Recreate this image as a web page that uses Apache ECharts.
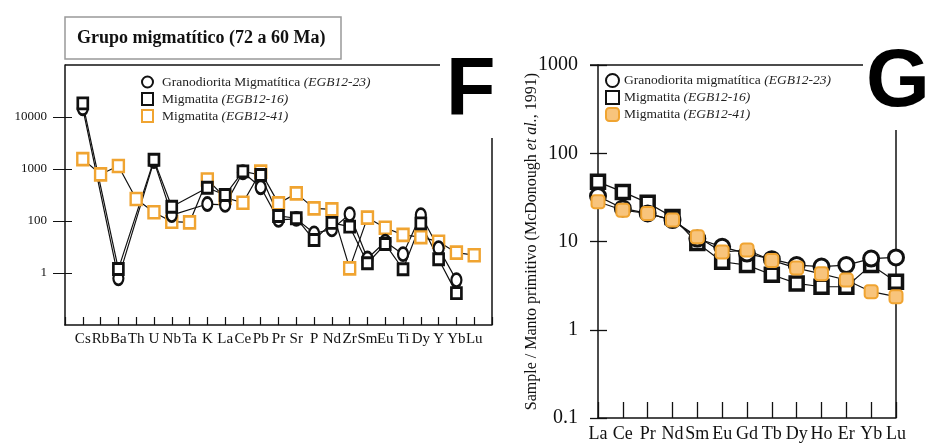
<!DOCTYPE html>
<html>
<head>
<meta charset="utf-8">
<script src="https://cdn.jsdelivr.net/npm/echarts@6/dist/echarts.min.js"></script>
<style>
  html, body { margin: 0; padding: 0; background: #fff; }
  #chart { width: 927px; height: 444px; }
</style>
</head>
<body>
<div id="chart"></div>
<script>
// ---- panel F: multielementos ----
const catsF = ['Cs', 'Rb', 'Ba', 'Th', 'U', 'Nb', 'Ta', 'K', 'La', 'Ce', 'Pb', 'Pr', 'Sr', 'P', 'Nd', 'Zr', 'Sm', 'Eu', 'Ti', 'Dy', 'Y', 'Yb', 'Lu']
const f23 = [14700, null, 7.9, null, 1420, 130, null, 212, 204, 865, 445, 105, 110, 58, 69, 136, 19, 40, 23, 130, 30, 7.3, null]
const f16 = [18300, null, 11.9, null, 1500, 188, null, 437, 316, 900, 767, 125, 113, 43, 92, 78, 15.4, 36, 11.8, 90, 18.4, 4.1, null]
const f41 = [1550, 790, 1140, 265, 147, 97, 94, 630, 280, 225, 890, 218, 340, 175, 167, 12.3, 116, 74, 54, 49, 40, 24.6, 22]
const yTickValsF = [10, 100, 1000, 10000]
const yTickLabelsF = ['1', '100', '1000', '10000']

// ---- panel G: tierras raras ----
const catsG = ['La', 'Ce', 'Pr', 'Nd', 'Sm', 'Eu', 'Gd', 'Tb', 'Dy', 'Ho', 'Er', 'Yb', 'Lu']
const g23 = [32.7, 23.7, 20.8, 17.5, 10.8, 8.7, 7.3, 6.3, 5.4, 5.2, 5.4, 6.4, 6.6]
const g16 = [47.4, 36.5, 27.4, 19, 9.6, 5.9, 5.4, 4.2, 3.35, 3.07, 3.07, 5.4, 3.5]
const g41 = [28.2, 22.6, 20.8, 17.5, 11.3, 7.6, 8.0, 6.1, 5.0, 4.3, 3.66, 2.7, 2.37]

const legendF = {
  F23: 'Granodiorita Migmatítica {i|(EGB12-23)}',
  F16: 'Migmatita {i|(EGB12-16)}',
  F41: 'Migmatita {i|(EGB12-41)}',
}
const legendG = {
  G23: 'Granodiorita migmatítica {i|(EGB12-23)}',
  G16: 'Migmatita {i|(EGB12-16)}',
  G41: 'Migmatita {i|(EGB12-41)}',
}

const serif = 'Liberation Serif'
const orange = '#f0a431'
// empty slot at each end of the F axis
const padCats = arr => ['', ...arr, '']
const pad = arr => [null, ...arr, null]

const chart = echarts.init(document.getElementById('chart'))

const lineBase = {
  type: 'line',
  connectNulls: true,
  animation: false,
  lineStyle: { color: '#111', width: 1.2 },
}

const options = {
  backgroundColor: '#fff',
  title: {
    text: 'Grupo migmatítico (72 a 60 Ma)',
    left: 65,
    top: 17,
    padding: [12, 16, 12, 12],
    borderColor: '#999',
    borderWidth: 1.5,
    textStyle: { fontFamily: serif, fontWeight: 'bold', fontSize: 18, color: '#111' },
  },
  grid: [
    { left: 65, top: 65, width: 427, height: 260 },
    { left: 598, top: 65, width: 298, height: 353 },
  ],
  xAxis: [
    {
      gridIndex: 0,
      type: 'category',
      data: padCats(catsF),
      boundaryGap: false,
      axisLine: { lineStyle: { color: '#111', width: 1.5 } },
      axisTick: { show: true, inside: true, length: 8, lineStyle: { color: '#111', width: 1.2 }, interval: 0 },
      axisLabel: { interval: 0, margin: 7, fontFamily: serif, fontSize: 15, color: '#111' },
      splitLine: { show: false },
    },
    {
      gridIndex: 1,
      type: 'category',
      data: catsG,
      boundaryGap: false,
      axisLine: { lineStyle: { color: '#111', width: 1.5 } },
      axisTick: { inside: true, length: 16, lineStyle: { color: '#111', width: 1.3 }, interval: 0 },
      axisLabel: { interval: 0, margin: 7, fontFamily: serif, fontSize: 18, color: '#111' },
      splitLine: { show: false },
    },
  ],
  yAxis: [
    {
      gridIndex: 0,
      type: 'log',
      position: 'left',
      min: 1,
      max: 100000,
      axisLine: { show: true, lineStyle: { color: '#111', width: 1.5 } },
      axisTick: { show: true, length: 12, customValues: yTickValsF, lineStyle: { color: '#111' } },
      axisLabel: {
        customValues: yTickValsF,
        margin: 18,
        fontFamily: serif,
        fontSize: 13,
        color: '#111',
        formatter: v => yTickLabelsF[yTickValsF.indexOf(v)] ?? '',
      },
      splitLine: { show: false },
    },
    {
      // short inside part of the crossing ticks
      gridIndex: 0,
      type: 'log',
      position: 'left',
      min: 1,
      max: 100000,
      axisLine: { show: false },
      axisTick: { show: true, inside: true, length: 7, customValues: yTickValsF, lineStyle: { color: '#111' } },
      axisLabel: { show: false },
      splitLine: { show: false },
    },
    {
      gridIndex: 1,
      type: 'log',
      position: 'left',
      min: 0.1,
      max: 1000,
      axisLine: { show: true, lineStyle: { color: '#111', width: 1.5 } },
      axisTick: { show: true, length: 8, lineStyle: { color: '#111', width: 1.3 } },
      axisLabel: { margin: 20, fontFamily: serif, fontSize: 20, color: '#111', formatter: v => String(v) },
      splitLine: { show: false },
      name: 'Sample / Manto primitivo (McDonough {i|et al.}, 1991)',
      nameLocation: 'middle',
      nameRotate: 90,
      nameGap: 58,
      nameMoveOverlap: false,
      nameTextStyle: {
        fontFamily: serif, fontSize: 16, color: '#111',
        rich: { i: { fontFamily: serif, fontSize: 16, fontStyle: 'italic', color: '#111' } },
      },
    },
    {
      gridIndex: 1,
      type: 'log',
      position: 'left',
      min: 0.1,
      max: 1000,
      axisLine: { show: false },
      axisTick: { show: true, inside: true, length: 9, lineStyle: { color: '#111', width: 1.3 } },
      axisLabel: { show: false },
      splitLine: { show: false },
    },
  ],
  legend: [
    {
      orient: 'vertical',
      left: 136,
      top: 70,
      itemWidth: 11,
      itemHeight: 12,
      itemGap: 3,
      data: [{ name: 'F23', icon: 'circle' }, { name: 'F16', icon: 'rect' }, { name: 'F41', icon: 'rect' }],
      formatter: name => legendF[name],
      textStyle: {
        fontFamily: serif, fontSize: 13.5, color: '#222', padding: [0, 0, 0, 4],
        rich: { i: { fontFamily: serif, fontSize: 13.5, fontStyle: 'italic', color: '#222' } },
      },
      selectedMode: false,
    },
    {
      orient: 'vertical',
      left: 600,
      top: 68,
      itemWidth: 13,
      itemHeight: 13,
      itemGap: 2,
      data: [{ name: 'G23', icon: 'circle' }, { name: 'G16', icon: 'rect' }, { name: 'G41', icon: 'roundRect' }],
      formatter: name => legendG[name],
      textStyle: {
        fontFamily: serif, fontSize: 13.5, color: '#222',
        rich: { i: { fontFamily: serif, fontSize: 13.5, fontStyle: 'italic', color: '#222' } },
      },
      selectedMode: false,
    },
  ],
  series: [
    {
      ...lineBase, name: 'F41', xAxisIndex: 0, yAxisIndex: 0, data: pad(f41),
      symbol: 'rect', symbolSize: [11, 12],
      itemStyle: { color: '#fff', borderColor: orange, borderWidth: 2.5 },
    },
    {
      ...lineBase, name: 'F23', xAxisIndex: 0, yAxisIndex: 0, data: pad(f23),
      symbol: 'circle', symbolSize: [10, 13],
      itemStyle: { color: '#fff', borderColor: '#111', borderWidth: 2.5 },
    },
    {
      ...lineBase, name: 'F16', xAxisIndex: 0, yAxisIndex: 0, data: pad(f16),
      symbol: 'rect', symbolSize: [10, 11],
      itemStyle: { color: '#fff', borderColor: '#111', borderWidth: 2.8 },
    },
    {
      ...lineBase, name: 'G16', xAxisIndex: 1, yAxisIndex: 2, data: g16,
      symbol: 'rect', symbolSize: 13,
      itemStyle: { color: '#fff', borderColor: '#111', borderWidth: 3.5 },
    },
    {
      ...lineBase, name: 'G23', xAxisIndex: 1, yAxisIndex: 2, data: g23,
      symbol: 'circle', symbolSize: 15,
      itemStyle: { color: '#fff', borderColor: '#111', borderWidth: 3 },
    },
    {
      ...lineBase, name: 'G41', xAxisIndex: 1, yAxisIndex: 2, data: g41,
      symbol: 'roundRect', symbolSize: 13,
      itemStyle: { color: '#f8c47c', borderColor: orange, borderWidth: 2 },
    },
  ],
  graphic: [
    // open frames of both panels
    { type: 'line', shape: { x1: 65, y1: 65, x2: 440, y2: 65 }, style: { stroke: '#111', lineWidth: 1.5 } },
    { type: 'line', shape: { x1: 492, y1: 138, x2: 492, y2: 325 }, style: { stroke: '#111', lineWidth: 1.5 } },
    { type: 'line', shape: { x1: 590, y1: 65, x2: 863, y2: 65 }, style: { stroke: '#111', lineWidth: 1.5 } },
    { type: 'line', shape: { x1: 896, y1: 130, x2: 896, y2: 418 }, style: { stroke: '#111', lineWidth: 1.5 } },
    // panel letters
    { type: 'text', left: 446, top: 52, style: { text: 'F', font: 'bold 81px "Liberation Sans"', fill: '#000' } },
    { type: 'text', left: 866, top: 42, style: { text: 'G', font: 'bold 82px "Liberation Sans"', fill: '#000' } },
  ],
}

chart.setOption(options)
</script>
</body>
</html>
